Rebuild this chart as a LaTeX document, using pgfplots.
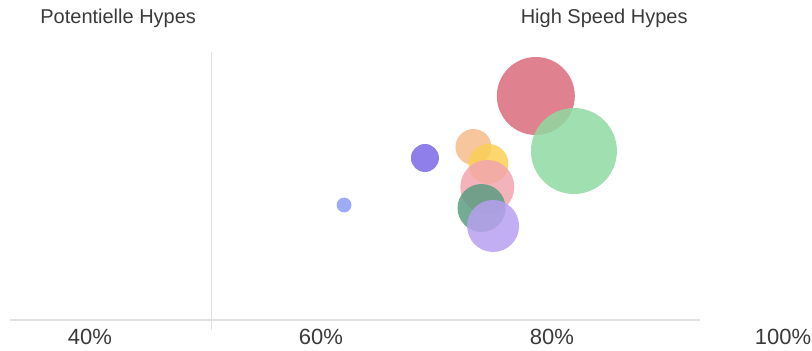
\documentclass[border=0pt]{standalone}
\usepackage{pgfplots}
\pgfplotsset{compat=1.18}
\usepackage{fontspec}
\setmainfont{Liberation Sans}

\definecolor{axisgray}{HTML}{E2E2E2}
\definecolor{labelgray}{HTML}{3A3A3A}
\definecolor{bRed}{HTML}{D96B7B}
\definecolor{bGreen}{HTML}{8FDAA2}
\definecolor{bViolet}{HTML}{7A68E6}
\definecolor{bBlue}{HTML}{8C9CF2}
\definecolor{bOrange}{HTML}{F7BC8C}
\definecolor{bYellow}{HTML}{FBCF55}
\definecolor{bPink}{HTML}{F2A5AE}
\definecolor{bTeal}{HTML}{5C9C82}
\definecolor{bLavender}{HTML}{B7A0F0}

% one bubble: x = share in %, y = position, mark size = bubble radius
\newcommand{\bubble}[4]{%
  \addplot[#1, only marks, mark=*, mark size=#4pt,
    mark options={draw opacity=0, fill=#1, fill opacity=0.85}]
    coordinates {(#2,#3)};}

\begin{document}
\begin{tikzpicture}
\begin{axis}[
  scale only axis,
  width=406pt, height=175.5pt,
  xmin=32.21, xmax=102.51,
  ymin=0, ymax=351,
  clip=false,
  axis x line*=bottom,
  axis y line=none,
  x axis line style={draw=none},
  major tick length=0pt,
  xtick={40,60,80,100},
  xticklabels={40\%,60\%,80\%,100\%},
  xticklabel style={anchor=center, yshift=7pt, font=\fontsize{11}{13}\selectfont, text=labelgray},
  ytick=\empty,
]
% canvas corners
\coordinate (canvasSW) at (axis cs:32.21,0);
\coordinate (canvasNE) at (axis cs:102.51,351);
% baseline and quadrant divider
\draw[axisgray, line width=0.6pt] (axis cs:33.07,31) -- (axis cs:92.81,31);
\draw[axisgray, line width=0.6pt] (axis cs:50.5,21) -- (axis cs:50.5,299);

% quadrant titles
\node[anchor=west, inner sep=0pt, text=labelgray, font=\fontsize{10}{12}\selectfont] at (axis cs:35.67,333) {Potentielle Hypes};
\node[anchor=east, inner sep=0pt, text=labelgray, font=\fontsize{10}{12}\selectfont] at (axis cs:91.77,333) {High Speed Hypes};

% bubbles
\bubble{bRed}{78.6}{255}{19.5}
\bubble{bGreen}{81.9}{200}{21.5}
\bubble{bOrange}{73.2}{204}{9}
\bubble{bYellow}{74.5}{187}{10}
\bubble{bPink}{74.4}{164}{13.5}
\bubble{bTeal}{73.9}{143}{12}
\bubble{bLavender}{74.9}{125}{13}
\bubble{bViolet}{69.0}{193}{7}
\bubble{bBlue}{62.0}{146}{3.7}
\end{axis}
\pgfresetboundingbox
\useasboundingbox (canvasSW) rectangle (canvasNE);
\end{tikzpicture}
\end{document}
